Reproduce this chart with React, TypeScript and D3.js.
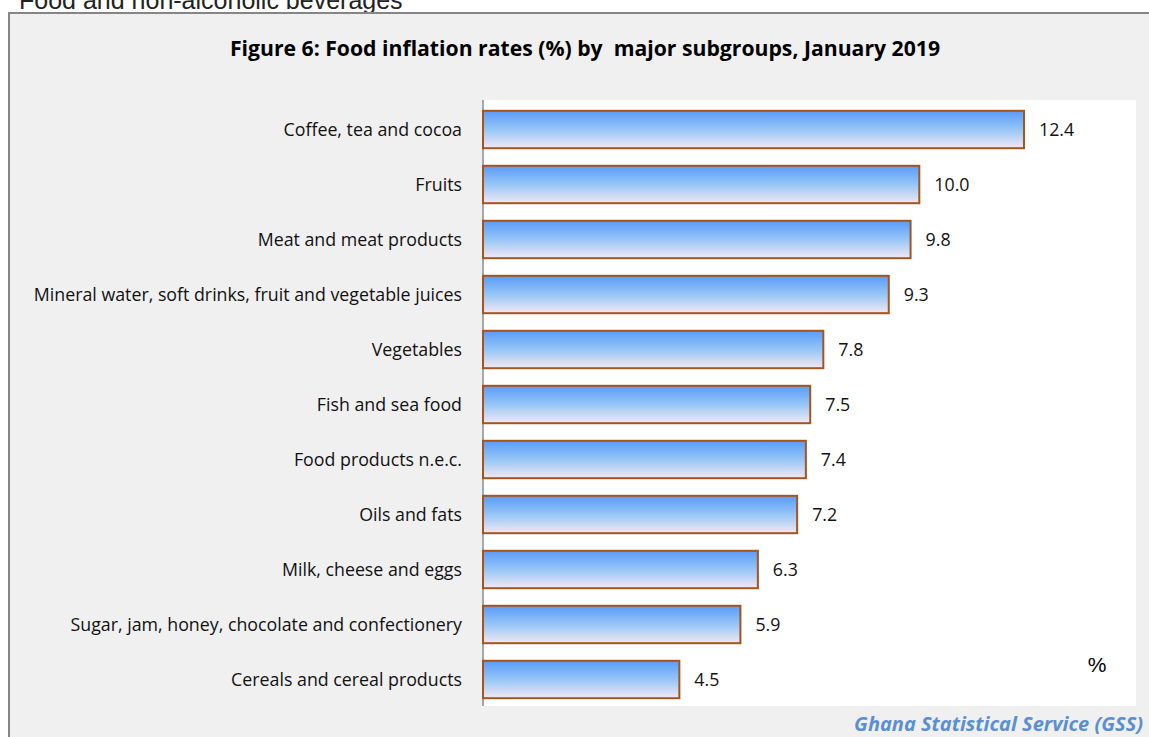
import React from "react";
import * as d3 from "d3";

const categories = [
  "Coffee, tea and cocoa",
  "Fruits",
  "Meat and meat products",
  "Mineral water, soft drinks, fruit and vegetable juices",
  "Vegetables",
  "Fish and sea food",
  "Food products n.e.c.",
  "Oils and fats",
  "Milk, cheese and eggs",
  "Sugar, jam, honey, chocolate and confectionery",
  "Cereals and cereal products",
];
const values = [12.4, 10.0, 9.8, 9.3, 7.8, 7.5, 7.4, 7.2, 6.3, 5.9, 4.5];

const W = 1149;
const H = 737;
const font = "'Open Sans', Lato, sans-serif";

export default function App() {
  const x = d3.scaleLinear().domain([0, 15]).range([483, 483 + 15 * 43.63]);
  const y = d3
    .scaleBand<string>()
    .domain(categories)
    .range([102, 707])
    .paddingInner(0.32)
    .paddingOuter(0.16);

  return (
    <svg
      width={W}
      height={H}
      style={{ position: "absolute", left: 0, top: 0 }}
      xmlns="http://www.w3.org/2000/svg"
    >
      <defs>
        <linearGradient id="barGrad" x1="0" y1="0" x2="0" y2="1">
          <stop offset="0" stopColor="#5a9bfc" />
          <stop offset="0.5" stopColor="#96c6f6" />
          <stop offset="1" stopColor="#f3e8f3" />
        </linearGradient>
      </defs>
      <rect x={0} y={0} width={W} height={H} fill="#ffffff" />
      <text
        x={19}
        y={9}
        fontFamily="'Liberation Sans', Arial, sans-serif"
        fontSize={25}
        fill="#222"
      >
        Food and non-alcoholic beverages
      </text>
      <rect x={9} y={13} width={W} height={H} fill="#f0f0f0" stroke="#858585" strokeWidth={2} />
      <text
        x={585}
        y={56}
        textAnchor="middle"
        fontFamily={font}
        fontWeight="bold"
        fontSize={21.2}
        fill="#000"
        style={{ whiteSpace: "pre" }}
      >
        Figure 6: Food inflation rates (%) by  major subgroups, January 2019
      </text>
      <rect x={483} y={100} width={653} height={606} fill="#ffffff" />
      <line x1={483} x2={483} y1={100} y2={706} stroke="#8c8c8c" strokeWidth={1.5} />
      {categories.map((c, i) => {
        const yy = y(c)!;
        const bh = y.bandwidth();
        return (
          <g key={c}>
            <rect
              x={x(0)}
              y={yy}
              width={x(values[i]) - x(0)}
              height={bh}
              fill="url(#barGrad)"
              stroke="#a5541b"
              strokeWidth={2}
            />
            <text
              x={462}
              y={yy + bh / 2}
              dy="0.35em"
              textAnchor="end"
              fontFamily={font}
              fontSize={17.8}
              fill="#111"
            >
              {c}
            </text>
            <text
              x={x(values[i]) + 15}
              y={yy + bh / 2}
              dy="0.35em"
              fontFamily={font}
              fontSize={17.8}
              fill="#111"
            >
              {values[i].toFixed(1)}
            </text>
          </g>
        );
      })}
      <text
        x={1097}
        y={672}
        textAnchor="middle"
        fontFamily="'Liberation Sans', Arial, sans-serif"
        fontSize={21}
        fill="#000"
      >
        %
      </text>
      <text
        x={1143}
        y={731}
        textAnchor="end"
        fontFamily={font}
        fontWeight="bold"
        fontStyle="italic"
        fontSize={20}
        fill="#5b8fd3"
      >
        Ghana Statistical Service (GSS)
      </text>
    </svg>
  );
}
